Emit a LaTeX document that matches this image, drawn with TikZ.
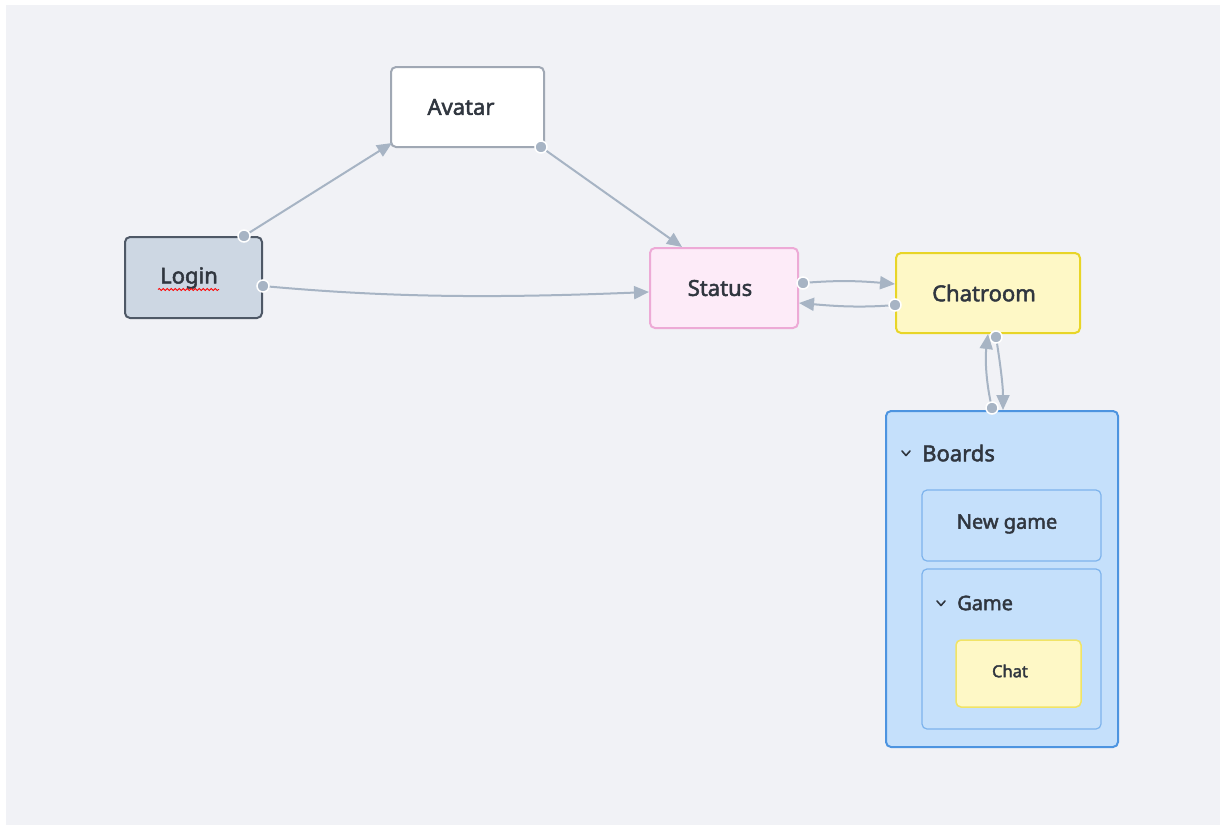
\documentclass[tikz,border=0pt]{standalone}
\usepackage{fontspec}
\setmainfont{Noto Sans}[FakeBold=2.2]
\usetikzlibrary{arrows.meta,calc,decorations.pathmorphing}
\definecolor{bgc}{HTML}{F1F2F6}
\definecolor{edgec}{HTML}{A7B4C4}
\definecolor{txtc}{HTML}{30363F}
\definecolor{loginfill}{HTML}{CDD7E3}
\definecolor{logindraw}{HTML}{4E5866}
\definecolor{avatardraw}{HTML}{A0A8B4}
\definecolor{statusfill}{HTML}{FDEBF8}
\definecolor{statusdraw}{HTML}{EDAAD6}
\definecolor{chatfill}{HTML}{FEF8C6}
\definecolor{chatdraw}{HTML}{E8D527}
\definecolor{chatdrawb}{HTML}{F1E466}
\definecolor{boardfill}{HTML}{C5E0FB}
\definecolor{boarddraw}{HTML}{4D94E0}
\definecolor{innerdraw}{HTML}{7DB3EC}
\tikzset{
  box/.style={rectangle, rounded corners=5pt, line width=2pt, text=txtc,
    inner sep=0pt},
  big/.style={text=txtc, font=\fontsize{22}{25}\selectfont},
  conn/.style={draw=edgec, line width=2pt, -{Triangle[length=15pt,width=13pt]}},
  dotc/.style={circle, fill=edgec, draw=white, line width=1.5pt, minimum size=12pt, inner sep=0pt},
  chev/.style={draw=txtc, line width=1.6pt, line cap=round, line join=round},
  lbl/.style={text=txtc, anchor=west, inner sep=0pt}
}
\begin{document}
\begin{tikzpicture}[x=1pt,y=-1pt]
\useasboundingbox (0,0) rectangle (1222,825);
\fill[white] (0,0) rectangle (1222,825);
\fill[bgc] (6,5) rectangle (1220,825);

% nodes
\node[box, fill=loginfill, draw=logindraw, minimum width=137pt, minimum height=81pt] (login) at (193.5,277.5) {};
\node[big] (logintxt) at (189,278) {Login};
\draw[red, line width=0.8pt, decoration={snake, segment length=4pt, amplitude=1pt}, decorate]
  ([xshift=-31pt,yshift=-11.5pt]logintxt.center) -- ([xshift=30pt,yshift=-11.5pt]logintxt.center);

\node[box, fill=white, draw=avatardraw, minimum width=153pt, minimum height=80pt] (avatar) at (467.5,107) {};
\node[big] (avatartxt) at (461,107) {Avatar};

\node[box, fill=statusfill, draw=statusdraw, minimum width=148pt, minimum height=80pt] (status) at (724,288) {};
\node[big] (statustxt) at (720,288) {Status};

\node[box, fill=chatfill, draw=chatdraw, minimum width=184pt, minimum height=80pt] (chatroom) at (988,293) {};
\node[big] (chatroomtxt) at (984,293) {Chatroom};

\node[box, fill=boardfill, draw=boarddraw, minimum width=232pt, minimum height=336pt] (boards) at (1002,579) {};
\node[lbl, font=\fontsize{22}{25}\selectfont] (boardstxt) at (922,453) {Boards};
\draw[chev] (902,451) -- (906,455.5) -- (910,451);

\node[box, fill=boardfill, draw=innerdraw, line width=1.2pt, minimum width=179pt, minimum height=71pt] (newgame) at (1011.5,525.5) {};
\node[text=txtc, font=\fontsize{20}{23}\selectfont] (newgametxt) at (1007,524) {New game};

\node[box, fill=boardfill, draw=innerdraw, line width=1.2pt, minimum width=179pt, minimum height=160pt] (game) at (1011.5,649) {};
\node[lbl, font=\fontsize{20}{23}\selectfont] (gametxt) at (957,603) {Game};
\draw[chev] (937,601) -- (941,605.5) -- (945,601);

\node[box, fill=chatfill, draw=chatdrawb, line width=1.5pt, minimum width=125pt, minimum height=67pt] (chat) at (1018.5,673.5) {};
\node[text=txtc, font=\fontsize{16.5}{19}\selectfont] (chattxt) at (1010,671) {Chat};

% connectors
\draw[conn] ([xshift=50.5pt]login.north) -- ([shift={(2pt,5pt)}]avatar.south west);
\node[dotc] at ([xshift=50.5pt]login.north) {};

\draw[conn] ([shift={(-4pt,1pt)}]avatar.south east) -- ([xshift=33pt]status.north west);
\node[dotc] at ([shift={(-4pt,1pt)}]avatar.south east) {};

\draw[conn] ([yshift=-8.5pt]login.east) .. controls +(130,12) and +(-150,6) .. ([yshift=-4pt]status.west);
\node[dotc] at ([yshift=-8.5pt]login.east) {};

\draw[conn] ([shift={(4pt,5pt)}]status.east) .. controls +(35,-3) and +(-35,-3) .. ([yshift=9pt]chatroom.west);
\node[dotc] at ([shift={(4pt,5pt)}]status.east) {};

\draw[conn] ([yshift=-12pt]chatroom.west) .. controls +(-35,3) and +(35,3) .. ([yshift=-15pt]status.east);
\node[dotc] at ([yshift=-12pt]chatroom.west) {};

\draw[conn] ([shift={(8pt,-3pt)}]chatroom.south) .. controls +(4,25) and +(0,-25) .. ([xshift=1pt]boards.north);
\node[dotc] at ([shift={(8pt,-3pt)}]chatroom.south) {};

\draw[conn] ([shift={(-10pt,2pt)}]boards.north) .. controls +(-6,-25) and +(-3,25) .. ([xshift=0pt]chatroom.south);
\node[dotc] at ([shift={(-10pt,2pt)}]boards.north) {};
\end{tikzpicture}
\end{document}
